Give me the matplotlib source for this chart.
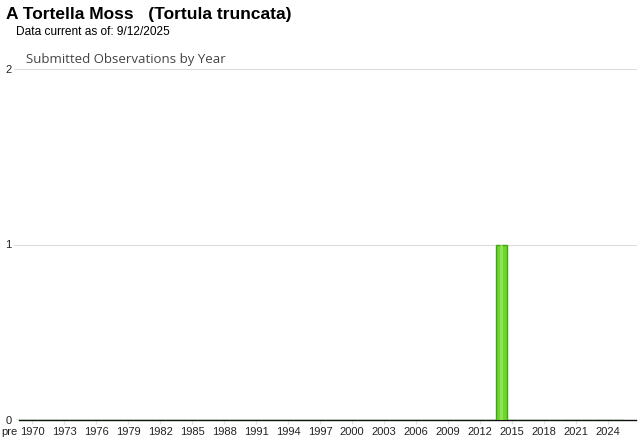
import matplotlib
matplotlib.use("Agg")
import matplotlib.pyplot as plt
from matplotlib.transforms import ScaledTranslation
import numpy as np

# Observation counts by year ("pre" collects everything before 1970)
categories = ["pre"] + [str(y) for y in range(1970, 2026)]
counts = [0] * len(categories)
counts[categories.index("2014")] = 1
label_years = ["pre"] + [str(y) for y in range(1970, 2026, 3)]
y_ticks = [0, 1, 2]

title = "A Tortella Moss   (Tortula truncata)"
subtitle = "Data current as of: 9/12/2025"
chart_title = "Submitted Observations by Year"

plt.rcParams["font.family"] = ["Liberation Sans", "DejaVu Sans"]

fig = plt.figure(figsize=(6.4, 4.42), dpi=100)
ax = fig.add_axes([16 / 640, 22 / 442, 620 / 640, 351 / 442])

x = np.arange(len(categories))
vals = np.array(counts, dtype=float)

# main bar with darker outline, plus a lighter inner highlight
ax.bar(x, vals, width=0.95, color="#6fd630", edgecolor="#43a316",
       linewidth=1.0, zorder=3)
ax.bar(x, vals, width=0.35, color="#a4f06a", linewidth=0, zorder=4,
       alpha=0.6)

ax.set_xlim(-0.5, len(categories) + 0.6)
ax.set_ylim(0, 2)

# gridlines
ax.set_yticks(y_ticks)
ax.set_yticklabels([str(v) for v in y_ticks], fontsize=8, color="#222222")
ax.tick_params(axis="y", length=0, pad=3)
for v in y_ticks[1:]:
    ax.axhline(v, color="#dddddd", linewidth=0.8, zorder=1, clip_on=False,
               xmin=-0.004)

# x ticks every third year, plus the "pre" bucket
tick_pos = [categories.index(c) for c in label_years]
ax.set_xticks(tick_pos)
ax.set_xticklabels(label_years, fontsize=8, color="#222222")
ax.tick_params(axis="x", length=3, color="#e0e0e0", pad=2, direction="out")
ax.xaxis.get_major_ticks()[0].tick1line.set_visible(False)
pre_label = ax.get_xticklabels()[0]
pre_label.set_transform(pre_label.get_transform() +
                        ScaledTranslation(-0.12, 0, fig.dpi_scale_trans))

for s in ["top", "right", "left"]:
    ax.spines[s].set_visible(False)
ax.spines["bottom"].set_color("#111111")
ax.spines["bottom"].set_linewidth(1.0)
ax.spines["bottom"].set_bounds(-0.2, len(categories) + 0.6)

fig.text(6 / 640, 1 - 15 / 442, title, fontsize=12.5, fontweight="bold",
         color="#000000", va="center", ha="left")
fig.text(16 / 640, 1 - 32 / 442, subtitle, fontsize=8.6, color="#000000",
         va="center", ha="left")
fig.text(26 / 640, 1 - 59 / 442, chart_title, fontsize=9.5, color="#444444",
         va="center", ha="left", family=["Open Sans", "DejaVu Sans"])

fig.savefig("out.png", dpi=100, facecolor="white")
